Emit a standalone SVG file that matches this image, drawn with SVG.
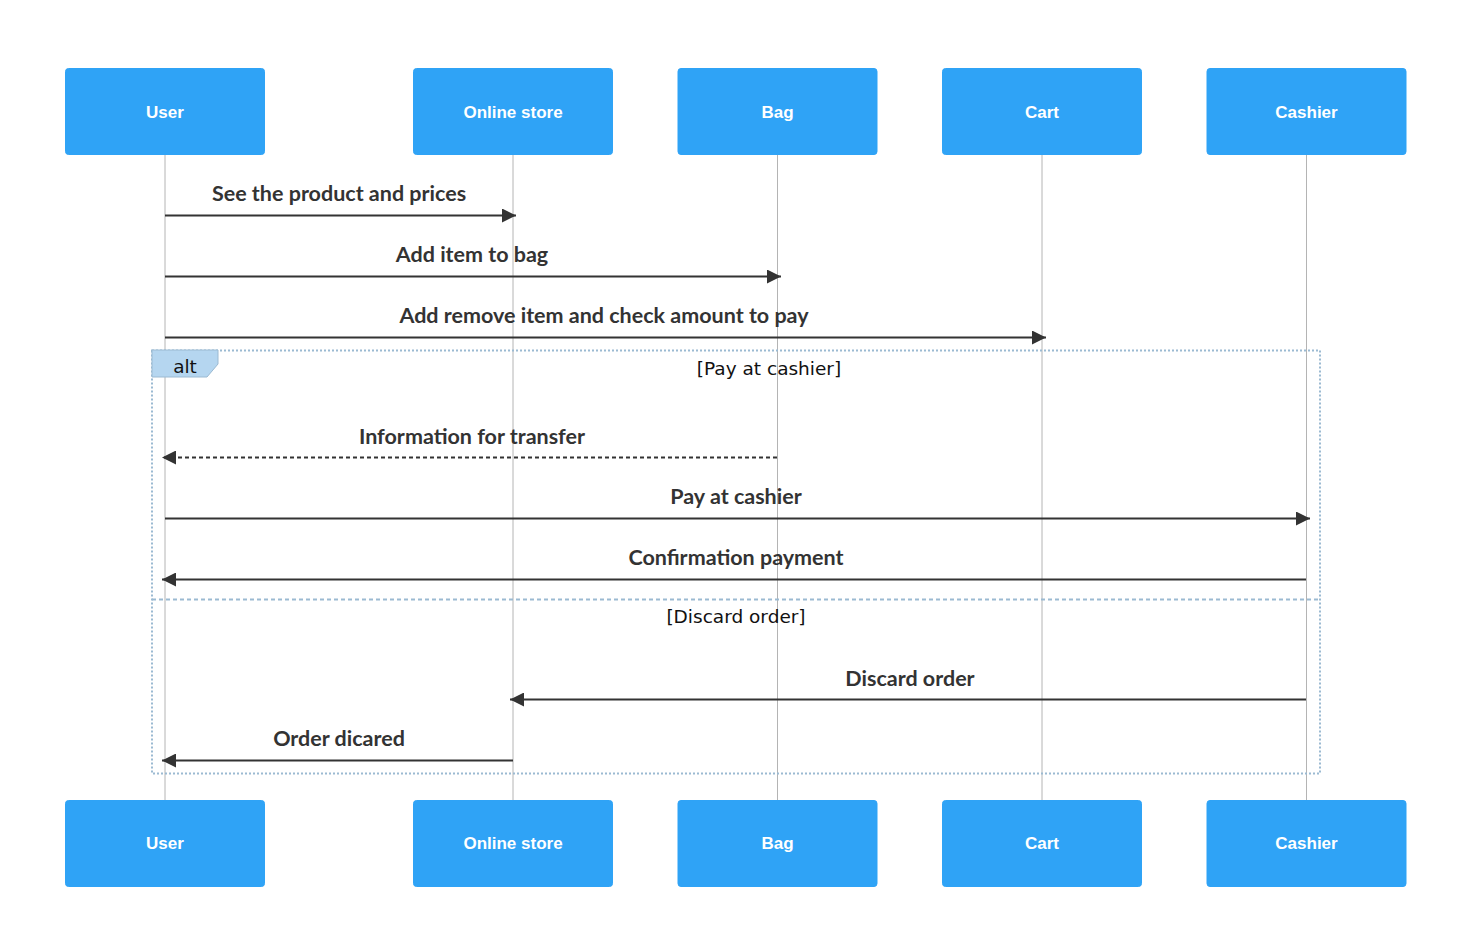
<svg xmlns="http://www.w3.org/2000/svg" width="1472" height="943" viewBox="0 0 1472 943">
<style>
.actor{fill:#2fa3f6;stroke:#2fa3f6;stroke-width:1}
.atext{font-family:"Liberation Sans",Arial,sans-serif;font-weight:bold;font-size:17px;fill:#ffffff;text-anchor:middle;dominant-baseline:central}
.life{stroke:#b4b4b4;stroke-width:1;fill:none}
.msg{stroke:#333333;stroke-width:2;fill:none}
.dash{stroke-dasharray:4,3}
.mtext{font-family:Lato,"Liberation Sans",sans-serif;font-weight:bold;font-size:21.5px;fill:#333333;text-anchor:middle}
.frame{fill:none;stroke:#9bbad2;stroke-width:2;stroke-dasharray:2,2}
.ftext{font-family:"DejaVu Sans",Verdana,sans-serif;font-size:18.5px;fill:#111111;text-anchor:middle}
</style>
<defs>
<marker id="arr" viewBox="0 0 14 14" refX="14" refY="7" markerWidth="14" markerHeight="14" markerUnits="userSpaceOnUse" orient="auto">
<path d="M0,0 L14,7 L0,14 z" fill="#333333"/>
</marker>
</defs>
<rect width="1472" height="943" fill="#ffffff"/>
<g id="lifelines">
<line class="life" x1="165" y1="155" x2="165" y2="800"/>
<line class="life" x1="513" y1="155" x2="513" y2="800"/>
<line class="life" x1="777.5" y1="155" x2="777.5" y2="800"/>
<line class="life" x1="1042" y1="155" x2="1042" y2="800"/>
<line class="life" x1="1306.5" y1="155" x2="1306.5" y2="800"/>
</g>
<g id="alt-frame">
<rect class="frame" x="152" y="350.5" width="1168" height="423"/>
<line x1="152" y1="599.5" x2="1320" y2="599.5" stroke="#9bbad2" stroke-width="2" stroke-dasharray="4,3"/>
<path d="M152,350 L218,350 L218,364 L207,377 L152,377 z" fill="#b5d6f0" stroke="#9bbad2" stroke-width="1"/>
<text class="ftext" x="185" y="373">alt</text>
<text class="ftext" x="769" y="375">[Pay at cashier]</text>
<text class="ftext" x="736" y="623">[Discard order]</text>
</g>
<g id="connectors">
<line class="msg" x1="165" y1="215.5" x2="516" y2="215.5" marker-end="url(#arr)"/>
<text class="mtext" x="339" y="201">See the product and prices</text>
<line class="msg" x1="165" y1="276.5" x2="781" y2="276.5" marker-end="url(#arr)"/>
<text class="mtext" x="472" y="262">Add item to bag</text>
<line class="msg" x1="165" y1="337.5" x2="1046" y2="337.5" marker-end="url(#arr)"/>
<text class="mtext" x="604" y="323">Add remove item and check amount to pay</text>
<line class="msg dash" x1="777" y1="457.5" x2="162" y2="457.5" marker-end="url(#arr)"/>
<text class="mtext" x="472" y="444">Information for transfer</text>
<line class="msg" x1="165" y1="518.5" x2="1310" y2="518.5" marker-end="url(#arr)"/>
<text class="mtext" x="736" y="504">Pay at cashier</text>
<line class="msg" x1="1306" y1="579.5" x2="162" y2="579.5" marker-end="url(#arr)"/>
<text class="mtext" x="736" y="565">Confirmation payment</text>
<line class="msg" x1="1306" y1="699.5" x2="510" y2="699.5" marker-end="url(#arr)"/>
<text class="mtext" x="910" y="686">Discard order</text>
<line class="msg" x1="513" y1="760.5" x2="162" y2="760.5" marker-end="url(#arr)"/>
<text class="mtext" x="339" y="746">Order dicared</text>
</g>
<g id="actor-user-top"><rect class="actor" x="65.5" y="68.5" width="199" height="86" rx="3"/><text class="atext" x="165" y="112">User</text></g>
<g id="actor-store-top"><rect class="actor" x="413.5" y="68.5" width="199" height="86" rx="3"/><text class="atext" x="513" y="112">Online store</text></g>
<g id="actor-bag-top"><rect class="actor" x="678" y="68.5" width="199" height="86" rx="3"/><text class="atext" x="777.5" y="112">Bag</text></g>
<g id="actor-cart-top"><rect class="actor" x="942.5" y="68.5" width="199" height="86" rx="3"/><text class="atext" x="1042" y="112">Cart</text></g>
<g id="actor-cashier-top"><rect class="actor" x="1207" y="68.5" width="199" height="86" rx="3"/><text class="atext" x="1306.5" y="112">Cashier</text></g>
<g id="actor-user-bottom"><rect class="actor" x="65.5" y="800.5" width="199" height="86" rx="3"/><text class="atext" x="165" y="843">User</text></g>
<g id="actor-store-bottom"><rect class="actor" x="413.5" y="800.5" width="199" height="86" rx="3"/><text class="atext" x="513" y="843">Online store</text></g>
<g id="actor-bag-bottom"><rect class="actor" x="678" y="800.5" width="199" height="86" rx="3"/><text class="atext" x="777.5" y="843">Bag</text></g>
<g id="actor-cart-bottom"><rect class="actor" x="942.5" y="800.5" width="199" height="86" rx="3"/><text class="atext" x="1042" y="843">Cart</text></g>
<g id="actor-cashier-bottom"><rect class="actor" x="1207" y="800.5" width="199" height="86" rx="3"/><text class="atext" x="1306.5" y="843">Cashier</text></g>
</svg>
